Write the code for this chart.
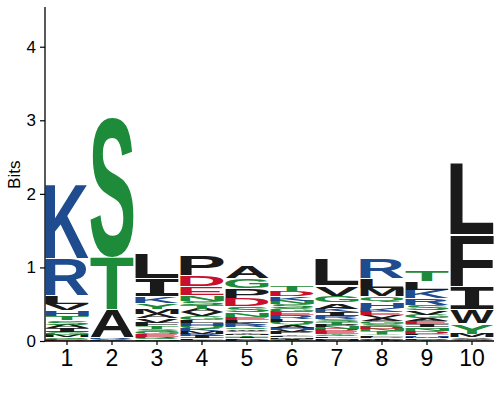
<!DOCTYPE html>
<html>
<head>
<meta charset="utf-8">
<script src="https://cdn.jsdelivr.net/npm/d3@7"></script>
<style>
  body { margin: 0; background: #fff; }
  svg { display: block; font-family: "Liberation Sans", Arial, sans-serif; }
</style>
</head>
<body>
<div id="chart"></div>
<script>
const width = 500
const height = 400
const margins = { top: 7, right: 6, bottom: 59, left: 45 }

// positions along the sequence
const positions = [1, 2, 3, 4, 5, 6, 7, 8, 9, 10]

const col1 = [["K", 1.02], ["R", 0.51], ["L", 0.11], ["V", 0.09], ["H", 0.07], ["T", 0.065], ["S", 0.06], ["I", 0.05], ["A", 0.05], ["G", 0.04], ["M", 0.03], ["E", 0.02], ["Q", 0.02], ["D", 0.01]]
const col2 = [["S", 1.91], ["T", 0.71], ["A", 0.38], ["V", 0.02], ["R", 0.02], ["K", 0.01]]
const col3 = [["L", 0.34], ["I", 0.25], ["K", 0.09], ["Y", 0.08], ["M", 0.07], ["V", 0.06], ["A", 0.06], ["F", 0.05], ["S", 0.04], ["T", 0.04], ["E", 0.03], ["G", 0.03], ["N", 0.02], ["Q", 0.02], ["R", 0.02]]
const col4 = [["P", 0.27], ["D", 0.15], ["E", 0.12], ["N", 0.08], ["S", 0.06], ["G", 0.05], ["V", 0.05], ["A", 0.05], ["T", 0.05], ["K", 0.04], ["Q", 0.04], ["H", 0.04], ["L", 0.04], ["I", 0.03], ["R", 0.03], ["M", 0.03], ["Y", 0.02], ["F", 0.02]]
const col5 = [["A", 0.17], ["G", 0.14], ["P", 0.13], ["D", 0.12], ["S", 0.08], ["N", 0.06], ["L", 0.04], ["E", 0.04], ["Q", 0.03], ["R", 0.03], ["K", 0.03], ["V", 0.02], ["I", 0.02], ["T", 0.02], ["M", 0.02], ["Y", 0.02], ["C", 0.02], ["W", 0.02], ["H", 0.01], ["F", 0.01]]
const col6 = [["T", 0.08], ["D", 0.07], ["K", 0.06], ["R", 0.05], ["E", 0.05], ["G", 0.05], ["S", 0.05], ["N", 0.05], ["A", 0.04], ["Q", 0.04], ["L", 0.04], ["P", 0.03], ["V", 0.03], ["H", 0.03], ["I", 0.02], ["M", 0.02], ["F", 0.02], ["Y", 0.02], ["C", 0.01]]
const col7 = [["L", 0.36], ["V", 0.14], ["G", 0.09], ["A", 0.085], ["I", 0.05], ["K", 0.05], ["T", 0.04], ["S", 0.04], ["R", 0.04], ["E", 0.03], ["D", 0.03], ["N", 0.03], ["P", 0.03], ["M", 0.02], ["F", 0.02], ["Q", 0.02], ["Y", 0.02], ["H", 0.01], ["C", 0.01]]
const col8 = [["R", 0.27], ["L", 0.14], ["M", 0.11], ["H", 0.08], ["Q", 0.08], ["E", 0.05], ["K", 0.05], ["S", 0.04], ["G", 0.04], ["A", 0.04], ["V", 0.04], ["T", 0.03], ["N", 0.03], ["D", 0.03], ["I", 0.02], ["P", 0.02], ["F", 0.02], ["Y", 0.02], ["W", 0.01], ["C", 0.01]]
const col9 = [["T", 0.16], ["L", 0.12], ["K", 0.11], ["R", 0.09], ["S", 0.07], ["V", 0.06], ["G", 0.05], ["I", 0.04], ["E", 0.04], ["A", 0.04], ["D", 0.03], ["N", 0.03], ["Q", 0.03], ["P", 0.02], ["M", 0.02], ["H", 0.02], ["F", 0.02], ["Y", 0.01], ["C", 0.01]]
const col10 = [["L", 0.97], ["F", 0.70], ["I", 0.32], ["W", 0.19], ["Y", 0.14], ["M", 0.05], ["V", 0.02], ["A", 0.01], ["T", 0.01], ["S", 0.01]]
const columns = [col1, col2, col3, col4, col5, col6, col7, col8, col9, col10]

const yTicks = [0, 1, 2, 3, 4]

// chemistry colouring
const letterGroups = ["polar", "basic", "acidic", "hydrophobic"]
const groupOf = (l) =>
  "GSTYCNQ".includes(l) ? "polar" : "KRH".includes(l) ? "basic" : "DE".includes(l) ? "acidic" : "hydrophobic"
const colorScale = d3
  .scaleOrdinal()
  .domain(letterGroups)
  .range(["#1d8b3a", "#1f4c8e", "#c8102e", "#1a1a1a"])

const svg = d3
  .select("#chart")
  .append("svg")
  .attr("width", width)
  .attr("height", height)
  .attr("viewBox", [0, 0, width, height])

const xScale = d3
  .scaleBand()
  .domain(positions)
  .range([44.5, 494.5])
  .paddingInner(0.04)
  .paddingOuter(0.02)

const yScale = d3
  .scaleLinear()
  .domain([0, 4.54])
  .range([height - margins.bottom, margins.top])

// tight glyph bounds from a canvas, so each letter fills its box
// (the I gets a slab-barred face, like logo fonts draw it)
const FONT_PX = 200
const familyOf = (l) =>
  l === "I" ? '"DejaVu Sans Mono", "Liberation Mono", monospace' : '"Liberation Sans", Arial, sans-serif'
const ctx = document.createElement("canvas").getContext("2d")
const metrics = {}
"ACDEFGHIKLMNPQRSTVWY".split("").forEach((l) => {
  ctx.font = `bold ${FONT_PX}px ${familyOf(l)}`
  const m = ctx.measureText(l)
  metrics[l] = {
    left: m.actualBoundingBoxLeft,
    right: m.actualBoundingBoxRight,
    ascent: m.actualBoundingBoxAscent,
    descent: m.actualBoundingBoxDescent,
  }
})

// stack letters: biggest on top
const stacks = columns.map((col, i) => {
  const sorted = col.slice().sort((a, b) => a[1] - b[1])
  let base = 0
  return sorted.map(([letter, bits]) => {
    const d = { pos: positions[i], letter, y0: base, y1: base + bits }
    base += bits
    return d
  })
})

const logo = svg.append("g").attr("class", "logo")

logo
  .selectAll("text")
  .data(stacks.flat())
  .join("text")
  .text((d) => d.letter)
  .attr("font-family", (d) => familyOf(d.letter))
  .attr("font-weight", "bold")
  .attr("font-size", FONT_PX)
  .attr("fill", (d) => colorScale(groupOf(d.letter)))
  .attr("transform", (d) => {
    const m = metrics[d.letter]
    const w = xScale.bandwidth()
    const full = yScale(d.y0) - yScale(d.y1)
    // thin white seam between stacked letters
    const h = full - Math.min(1.2, full * 0.12)
    const sx = w / (m.left + m.right)
    const sy = h / (m.ascent + m.descent)
    const tx = xScale(d.pos) + m.left * sx
    const ty = yScale(d.y0) - m.descent * sy
    return `translate(${tx},${ty}) scale(${sx},${sy})`
  })

// AXES
const yAxisGenerator = d3
  .axisLeft()
  .scale(yScale)
  .tickValues(yTicks)
  .tickFormat(d3.format("d"))
  .tickSizeInner(5)
  .tickSizeOuter(0)
  .tickPadding(4)

const xAxisGenerator = d3
  .axisBottom()
  .scale(xScale)
  .tickSizeInner(4)
  .tickSizeOuter(0)
  .tickPadding(5)

const yAxis = svg
  .append("g")
  .attr("class", "y-axis")
  .attr("transform", `translate(${margins.left},0)`)
  .call(yAxisGenerator)
yAxis.select(".domain").attr("d", `M0,${yScale(0)}V${margins.top}`).attr("stroke", "#000").attr("stroke-width", 1.3)
yAxis.selectAll(".tick line").attr("stroke", "#000").attr("stroke-width", 1.2)
yAxis.selectAll(".tick text").style("font-size", "17px").style("fill", "#000")

const xAxis = svg
  .append("g")
  .attr("class", "x-axis")
  .attr("transform", `translate(0,${yScale(0)})`)
  .call(xAxisGenerator)
xAxis.select(".domain").attr("d", `M${margins.left},0H${width - margins.right}`).attr("stroke", "#000").attr("stroke-width", 1.3)
xAxis.selectAll(".tick line").attr("stroke", "#000").attr("stroke-width", 1.2)
xAxis.selectAll(".tick text").style("font-size", "23px").style("fill", "#000")

svg
  .append("text")
  .attr("transform", `translate(20,${yScale(2.26)}) rotate(-90)`)
  .attr("text-anchor", "middle")
  .style("font-size", "17px")
  .text("Bits")
</script>
</body>
</html>
